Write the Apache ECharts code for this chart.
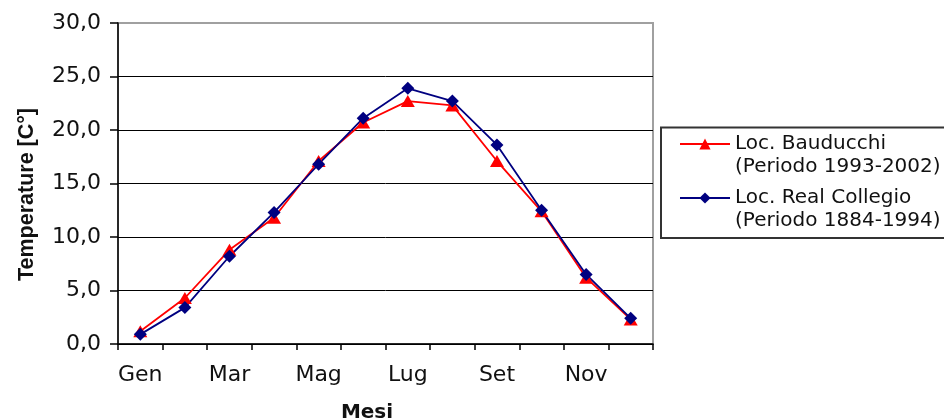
<!DOCTYPE html>
<html>
<head>
<meta charset="utf-8">
<script src="https://cdn.jsdelivr.net/npm/echarts@6/dist/echarts.min.js"></script>
<style>
html,body{margin:0;padding:0;background:#fff;}
#chart{width:944px;height:419px;}
</style>
</head>
<body>
<div id="chart"></div>
<script>
var months = ['Gen','Feb','Mar','Apr','Mag','Giu','Lug','Ago','Set','Ott','Nov','Dic'];
var bauducchiName = 'Loc. Bauducchi\n(Periodo 1993-2002)';
var collegioName = 'Loc. Real Collegio\n(Periodo 1884-1994)';
var bauducchi = [1.2, 4.3, 8.8, 11.8, 17.1, 20.7, 22.7, 22.3, 17.1, 12.4, 6.2, 2.3];
var collegio = [0.9, 3.4, 8.2, 12.3, 16.8, 21.1, 23.9, 22.7, 18.6, 12.5, 6.5, 2.4];
var yTicks = {min: 0, max: 30, interval: 5};
var xTitle = 'Mesi';
var yTitle = 'Temperature [C°]';

var FONT = 'DejaVu Sans';
var TEXT = '#111';
var chart = echarts.init(document.getElementById('chart'), null, {renderer: 'canvas'});
chart.setOption({
  animation: false,
  backgroundColor: '#fff',
  grid: {left: 118, right: 291, top: 23, bottom: 75, containLabel: false, outerBoundsMode: 'none',
    show: true, borderColor: '#a0a0a0', borderWidth: 2, backgroundColor: 'transparent'},
  graphic: [{
    type: 'rect', z: 0, silent: true,
    shape: {x: 661, y: 127.5, width: 300, height: 110.5},
    style: {fill: 'none', stroke: '#333', lineWidth: 2}
  }],
  legend: {
    orient: 'vertical', left: 679, top: 109.5, padding: 0,
    itemWidth: 50, itemHeight: 14, itemGap: -15,
    selectedMode: false,
    data: [bauducchiName, collegioName],
    formatter: function (name) { return '\n' + name; },
    textStyle: {fontFamily: FONT, fontSize: 20, lineHeight: 23, color: TEXT}
  },
  xAxis: {
    type: 'category', data: months, boundaryGap: true,
    name: xTitle, nameLocation: 'middle', nameGap: 59,
    nameTextStyle: {fontFamily: FONT, fontSize: 20, fontWeight: 'bold', color: TEXT, padding: [0, 37, 0, 0]},
    axisLine: {lineStyle: {color: '#000', width: 1.5}},
    axisTick: {show: true, interval: 0, length: 6, lineStyle: {color: '#000', width: 1.5}},
    axisLabel: {interval: 1, margin: 20, fontFamily: FONT, fontSize: 22, color: TEXT},
    splitLine: {show: false}
  },
  yAxis: {
    type: 'value', min: yTicks.min, max: yTicks.max, interval: yTicks.interval,
    name: yTitle, nameLocation: 'middle', nameGap: 80, nameRotate: 90,
    nameTextStyle: {fontFamily: 'Liberation Sans', fontSize: 21.5, fontWeight: 'bold', color: TEXT, padding: [0, 22, 0, 0]},
    axisLine: {show: true, lineStyle: {color: '#000', width: 1.5}},
    axisTick: {show: true, length: 8, lineStyle: {color: '#000', width: 1.5}},
    axisLabel: {margin: 17, fontFamily: FONT, fontSize: 22, color: TEXT,
      formatter: function (v) { return v.toFixed(1).replace('.', ','); }},
    splitLine: {show: true, showMaxLine: false, lineStyle: {color: '#000', width: 1}}
  },
  series: [{
    name: bauducchiName, type: 'line', data: bauducchi,
    symbol: 'triangle', symbolSize: [14, 12],
    lineStyle: {color: '#ff0000', width: 1.8},
    itemStyle: {color: '#ff0000'}
  }, {
    name: collegioName, type: 'line', data: collegio,
    symbol: 'diamond', symbolSize: [13, 13],
    lineStyle: {color: '#000080', width: 1.8},
    itemStyle: {color: '#000080'}
  }]
});
</script>
</body>
</html>
